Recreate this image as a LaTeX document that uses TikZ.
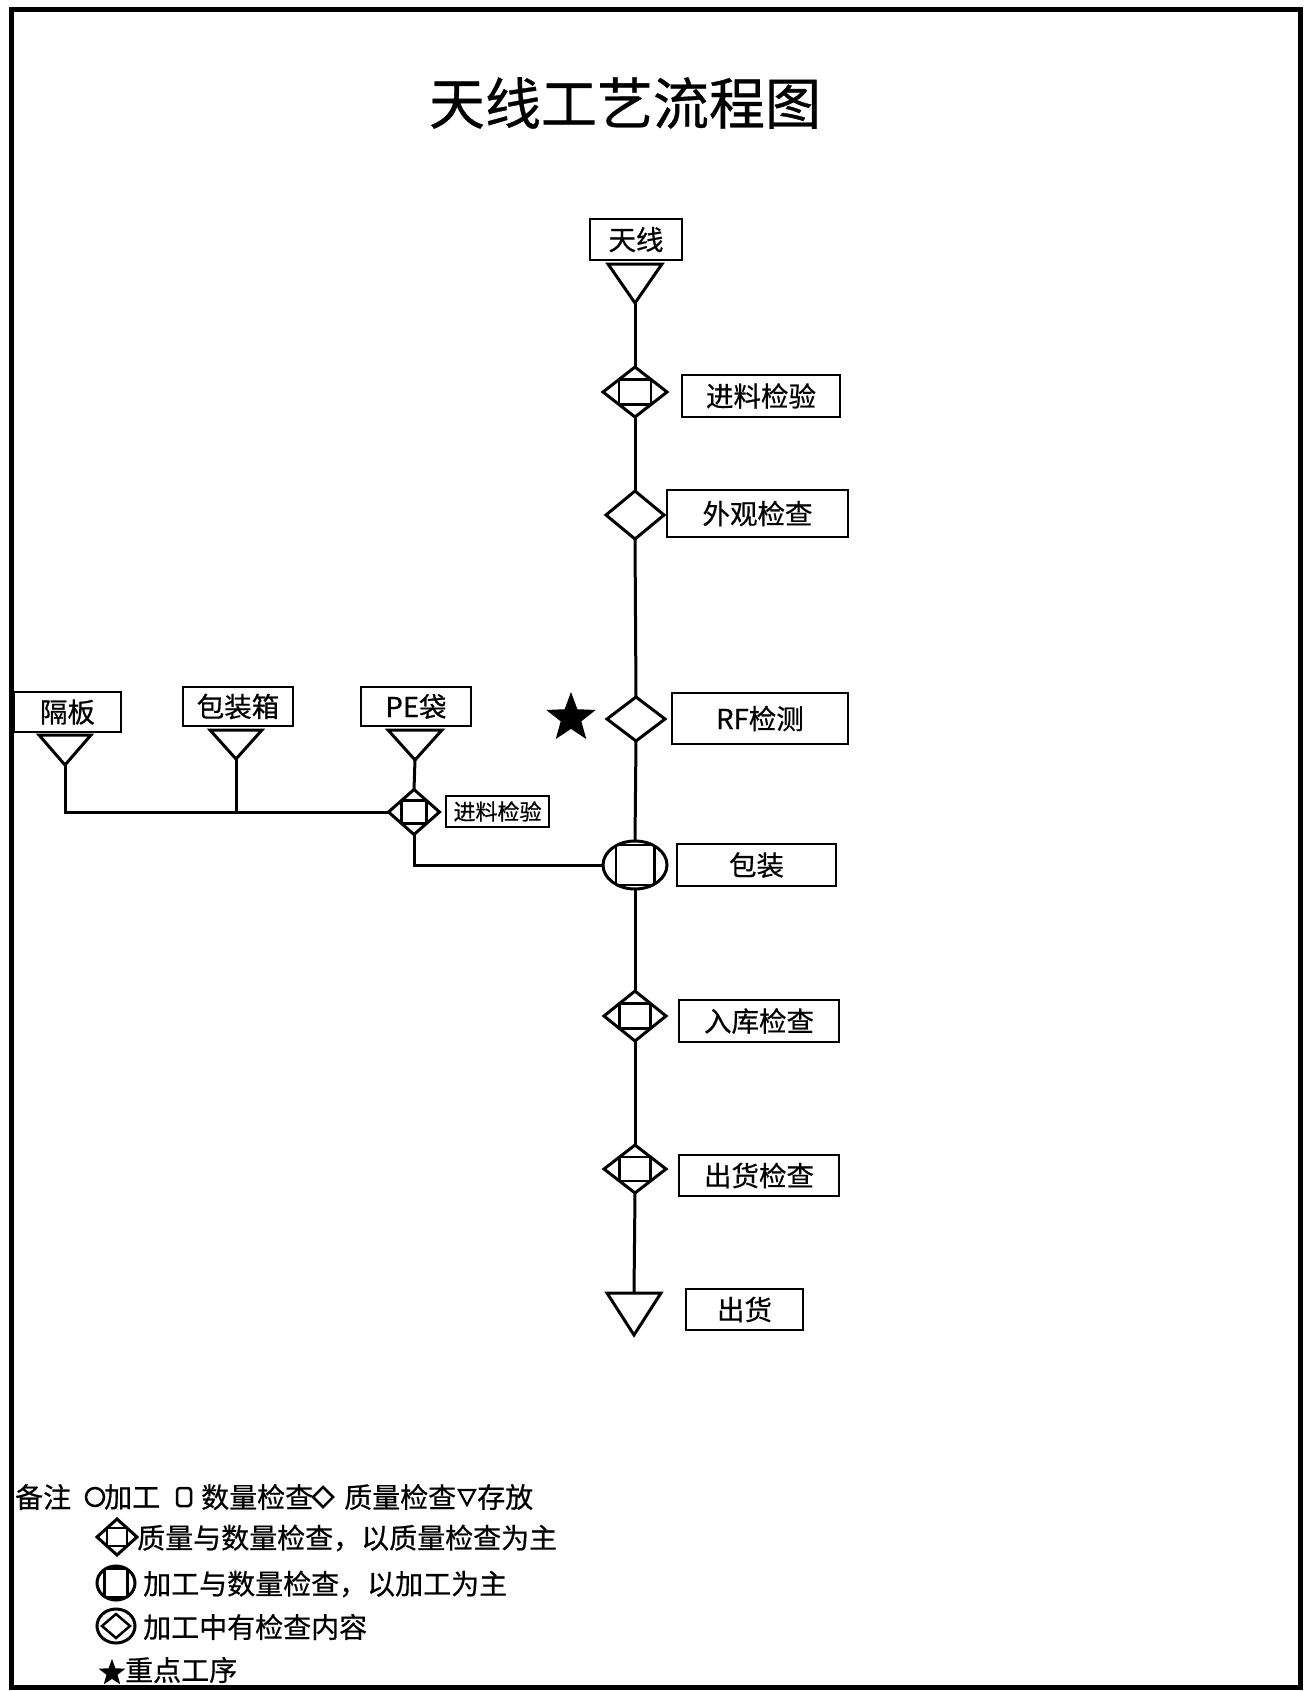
\documentclass[tikz,border=0pt]{standalone}
\usepackage{fontspec}
\setmainfont{Noto Sans CJK SC}[FakeBold=0.6]
\usetikzlibrary{shapes.geometric}
\tikzset{
  lbl/.style={draw, line width=2.5, inner sep=0, outer sep=0, font=\fontsize{27.5}{27.5}\selectfont},
  shp/.style={draw, line width=3, line join=miter},
  conn/.style={line width=3},
  dmd/.style 2 args={draw, diamond, line width=3, inner sep=0, outer sep=0, minimum width=#1, minimum height=#2},
  dsq/.style 2 args={dmd={#1}{#2}, path picture={\draw[line width=2.6] (path picture bounding box.center) ++(-#1/4,-#2/4) rectangle ++(#1/2,#2/2);}},
  esq/.style 2 args={draw, ellipse, line width=3, inner sep=0, outer sep=0, minimum width=#1, minimum height=#2, path picture={\draw[line width=2.6] (path picture bounding box.center) ++(-#1*0.3,-#2*0.42) rectangle ++(#1*0.6,#2*0.84);}},
  legtxt/.style={anchor=west, inner sep=0, font=\fontsize{28}{28}\selectfont},
  starsh/.style={star, star points=5, star point ratio=2.4, fill=black, draw=none, inner sep=0}
}
\begin{document}
\begin{tikzpicture}[x=1pt,y=-1pt]
\useasboundingbox (0,0) rectangle (1307,1691);
\draw[line width=5] (11,10) rectangle (1300,1687);
\node[inner sep=0, font=\fontsize{56}{56}\selectfont] (title) at (625,103) {天线工艺流程图};

% main column labels
\node[lbl, minimum width=92, minimum height=41] (bTX) at (636,239.5) {天线};
\node[lbl, minimum width=158, minimum height=42] (bJL) at (761,396) {进料检验};
\node[lbl, minimum width=181, minimum height=47] (bWG) at (757.5,513.5) {外观检查};
\node[lbl, minimum width=176, minimum height=51] (bRF) at (760,718.5) {RF检测};
\node[lbl, minimum width=159, minimum height=42] (bBZ) at (756.5,865) {包装};
\node[lbl, minimum width=160, minimum height=42] (bRK) at (759,1021) {入库检查};
\node[lbl, minimum width=160, minimum height=41] (bCJ) at (759,1175.5) {出货检查};
\node[lbl, minimum width=117, minimum height=41] (bCH) at (744.5,1309.5) {出货};

% main column symbols
\coordinate (t0) at (635,303);
\draw[shp] (t0) -- ++(-27,-39) -- ++(54,0) -- cycle;
\node[dsq={64}{50}] (d1) at (635,392) {};
\node[dmd={58}{48}] (d2) at (635,515) {};
\node[dmd={58}{44}] (d3) at (636,719) {};
\node[esq={64}{48}] (e1) at (635,865) {};
\node[dsq={62}{50}] (d4) at (635,1016) {};
\node[dsq={62}{48}] (d5) at (635,1169) {};
\coordinate (t9) at (634,1293);
\draw[shp] (t9) ++(-27,0) -- ++(54,0) -- (634,1335) -- cycle;
\node[starsh, minimum size=52] (star) at (571,718) {};

\draw[conn] (t0) -- (d1.north);
\draw[conn] (d1.south) -- (d2.north);
\draw[conn] (d2.south) -- (d3.north);
\draw[conn] (d3.south) -- (e1.north);
\draw[conn] (e1.south) -- (d4.north);
\draw[conn] (d4.south) -- (d5.north);
\draw[conn] (d5.south) -- (t9);

% left branch
\node[lbl, minimum width=107, minimum height=40] (bGB) at (67.5,712) {隔板};
\node[lbl, minimum width=110, minimum height=39] (bBX) at (238,706.5) {包装箱};
\node[lbl, minimum width=110, minimum height=39] (bPE) at (416,706.5) {PE袋};
\coordinate (tg) at (65,765);
\draw[shp] (tg) -- ++(-26,-30) -- ++(52,0) -- cycle;
\coordinate (tb) at (236,759);
\draw[shp] (tb) -- ++(-26,-29) -- ++(52,0) -- cycle;
\coordinate (tp) at (415,760);
\draw[shp] (tp) -- ++(-27,-30) -- ++(54,0) -- cycle;
\node[dsq={51}{45}] (dp) at (414,812) {};
\node[lbl, line width=2, minimum width=103, minimum height=31, font=\fontsize{22}{22}\selectfont] (bJL2) at (497.5,811.5) {进料检验};

\draw[conn] (tg) |- (dp.west);
\draw[conn] (tb) -- (tb |- dp.west);
\draw[conn] (tp) -- (dp.north);
\draw[conn] (dp.south) |- (e1.west);

% legend
\node[legtxt] (l1) at (15,1497) {备注};
\draw[line width=2.5] (95,1497) circle (9);
\node[legtxt] (l2) at (104,1497) {加工};
\draw[line width=2.5, rounded corners=3] (177,1488) rectangle (191,1506);
\node[legtxt] (l3) at (201,1497) {数量检查};
\draw[line width=2.5] (313,1497) -- (323,1487) -- (333,1497) -- (323,1507) -- cycle;
\node[legtxt] (l4) at (344,1497) {质量检查};
\draw[line width=2.2] (459,1490) -- (475,1490) -- (467,1505) -- cycle;
\node[legtxt] (l5) at (477,1497) {存放};

\node[dsq={40}{36}] (s2) at (117,1537) {};
\node[legtxt] (l6) at (137,1538) {质量与数量检查，以质量检查为主};
\node[esq={38}{34}] (s3) at (116,1583) {};
\node[legtxt] (l7) at (143,1584) {加工与数量检查，以加工为主};
\node[draw, ellipse, line width=3, inner sep=0, minimum width=38, minimum height=34] (s4) at (116,1626) {};
\draw[line width=2.5] (102,1626) -- (116,1614) -- (130,1626) -- (116,1638) -- cycle;
\node[legtxt] (l8) at (143,1627) {加工中有检查内容};
\node[starsh, minimum size=28] (s5) at (112,1673) {};
\node[legtxt] (l9) at (125,1670) {重点工序};
\end{tikzpicture}
\end{document}
